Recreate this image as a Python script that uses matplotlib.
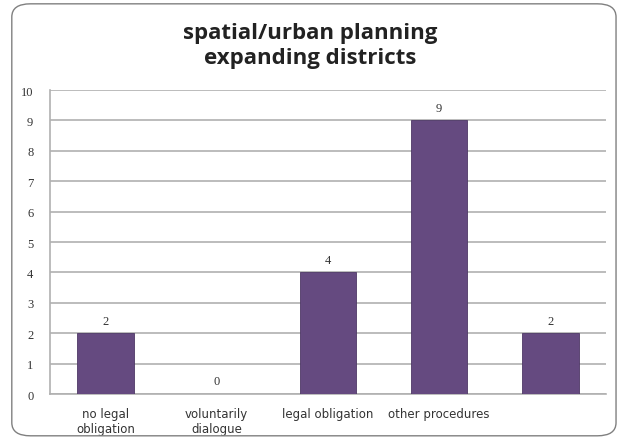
import matplotlib.pyplot as plt
import numpy as np
from matplotlib.patches import FancyBboxPatch

categories = ["no legal\nobligation", "voluntarily\ndialogue", "legal obligation",
              "other procedures", ""]
values = [2, 0, 4, 9, 2]
yticks = list(range(0, 11))

bar_color = "#654a80"
grid_color = "#b0b0b0"

fig = plt.figure(figsize=(6.21, 4.39), dpi=100)
fig.patches.append(FancyBboxPatch((0.019, 0.005), 0.973, 0.984,
                                  boxstyle="round,pad=0,rounding_size=0.03",
                                  transform=fig.transFigure, facecolor="none",
                                  edgecolor="#808080", linewidth=1.0, zorder=5))

ax = fig.add_axes([0.0805, 0.1002, 0.895, 0.6925])
x = np.arange(len(categories))
for xi, v in zip(x, values):
    ax.bar(xi, v, width=0.51, color=bar_color, edgecolor="#4e3866", linewidth=0.6, zorder=3)
    ax.text(xi, v + 0.22, str(v), ha="center", va="bottom", fontsize=9, color="#333333",
            family="Liberation Serif")

ax.set_xlim(-0.5, len(categories) - 0.5)
ax.set_ylim(0, 10)
ax.set_yticks(yticks)
ax.set_yticklabels([str(t) for t in yticks], fontsize=9, color="#333333",
                   family="Liberation Serif")
ax.set_xticks(x)
ax.set_xticklabels(categories, fontsize=8.5, color="#333333")
ax.tick_params(axis="y", length=0, pad=12)
ax.tick_params(axis="x", length=0, pad=9)
ax.yaxis.grid(True, color=grid_color, linewidth=1.2, zorder=0)
ax.set_axisbelow(True)
for s in ["top", "right"]:
    ax.spines[s].set_visible(False)
ax.spines["left"].set_color(grid_color)
ax.spines["bottom"].set_color(grid_color)
ax.spines["left"].set_linewidth(1.2)
ax.spines["bottom"].set_linewidth(1.2)

fig.text(0.5, 0.895, "spatial/urban planning\nexpanding districts", ha="center", va="center",
         fontsize=16, fontweight="bold", family="Open Sans", color="#222222", linespacing=1.3)

fig.savefig("out.png", dpi=100)
